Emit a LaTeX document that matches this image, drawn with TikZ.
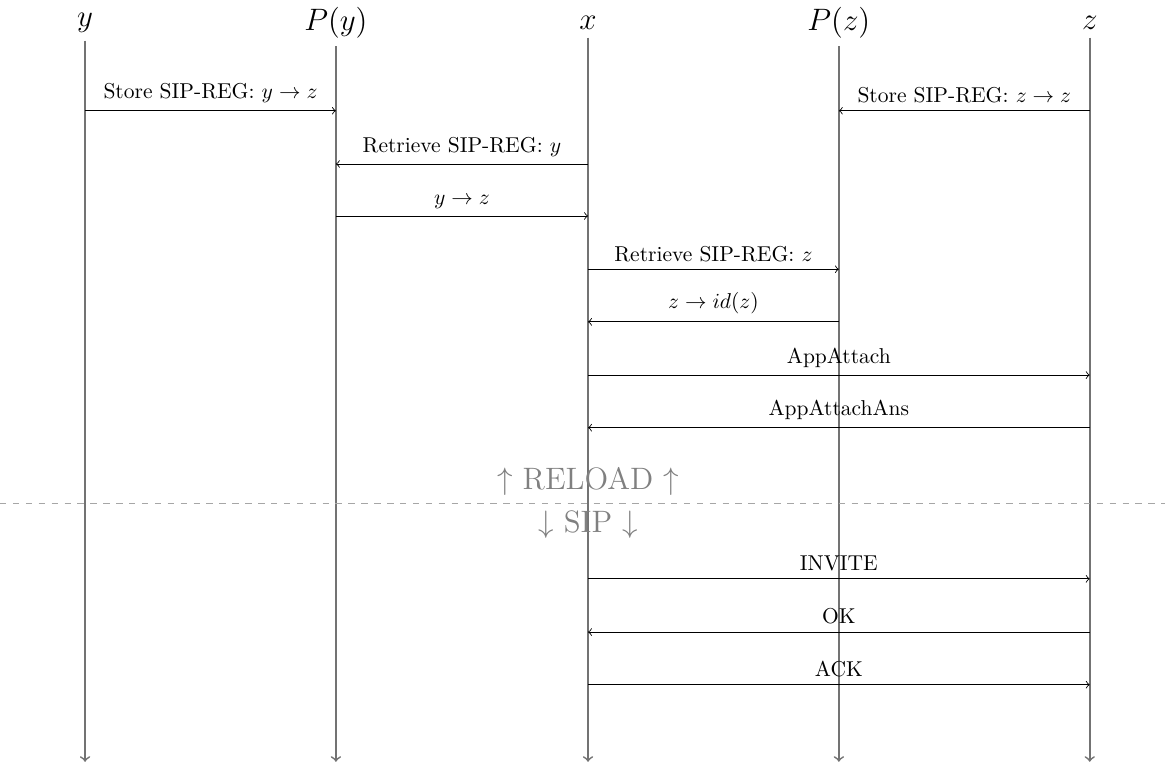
\documentclass[tikz,border=0pt]{standalone}
\usepackage{xcolor}
\usepackage{amsmath,amssymb}
\usepackage{tikz}

\begin{document}
\begin{tikzpicture}[->,
  actor/.style={font=\Large},
  lifeline/.style={draw=black!55,thick},
  rule/.style={-,dashed,draw=black!35},
  phase/.style={font=\Large,text=gray}]
\useasboundingbox (0,0) rectangle (19.04,-12.53);
% participants
\node[actor] (y)  at (1.39,-0.38)  {$y$};
\node[actor] (Py) at (5.49,-0.38)  {$P(y)$};
\node[actor] (x)  at (9.61,-0.38)  {$x$};
\node[actor] (Pz) at (13.71,-0.38) {$P(z)$};
\node[actor] (z)  at (17.81,-0.38) {$z$};
\coordinate (end) at (0,-12.45);
\draw[lifeline] (y)  -- (y |- end);
\draw[lifeline] (Py) -- (Py |- end);
\draw[lifeline] (x)  -- (x |- end);
\draw[lifeline] (Pz) -- (Pz |- end);
\draw[lifeline] (z)  -- (z |- end);
% message rows
\coordinate (m1) at (0,-1.81);
\coordinate (m2) at (0,-2.68);
\coordinate (m3) at (0,-3.53);
\coordinate (m4) at (0,-4.40);
\coordinate (m5) at (0,-5.26);
\coordinate (m6) at (0,-6.13);
\coordinate (m7) at (0,-6.99);
\coordinate (m8) at (0,-9.46);
\coordinate (m9) at (0,-10.33);
\coordinate (m10) at (0,-11.19);
% RELOAD
\draw (y |- m1) -- (Py |- m1) node[midway,above] {Store SIP-REG: $y \to z$};
\draw (z |- m1) -- (Pz |- m1) node[midway,above] {Store SIP-REG: $z \to z$};
\draw (x |- m2) -- (Py |- m2) node[midway,above] {Retrieve SIP-REG: $y$};
\draw (Py |- m3) -- (x |- m3) node[midway,above] {$y \to z$};
\draw (x |- m4) -- (Pz |- m4) node[midway,above] {Retrieve SIP-REG: $z$};
\draw (Pz |- m5) -- (x |- m5) node[midway,above] {$z \to id(z)$};
\draw (x |- m6) -- (z |- m6) node[midway,above] {AppAttach};
\draw (z |- m7) -- (x |- m7) node[midway,above] {AppAttachAns};
% separator
\coordinate (sepL) at (0,-8.22);
\coordinate (sepR) at (19.04,-8.22);
\draw[rule] (sepL) -- (sepR);
\node[phase,above] (reload) at (x |- sepL) {$\uparrow$ RELOAD $\uparrow$};
\node[phase,below] (sip) at (x |- sepL) {$\downarrow$ SIP $\downarrow$};
% SIP
\draw (x |- m8) -- (z |- m8) node[midway,above] {INVITE};
\draw (z |- m9) -- (x |- m9) node[midway,above] {OK};
\draw (x |- m10) -- (z |- m10) node[midway,above] {ACK};
\end{tikzpicture}
\end{document}
